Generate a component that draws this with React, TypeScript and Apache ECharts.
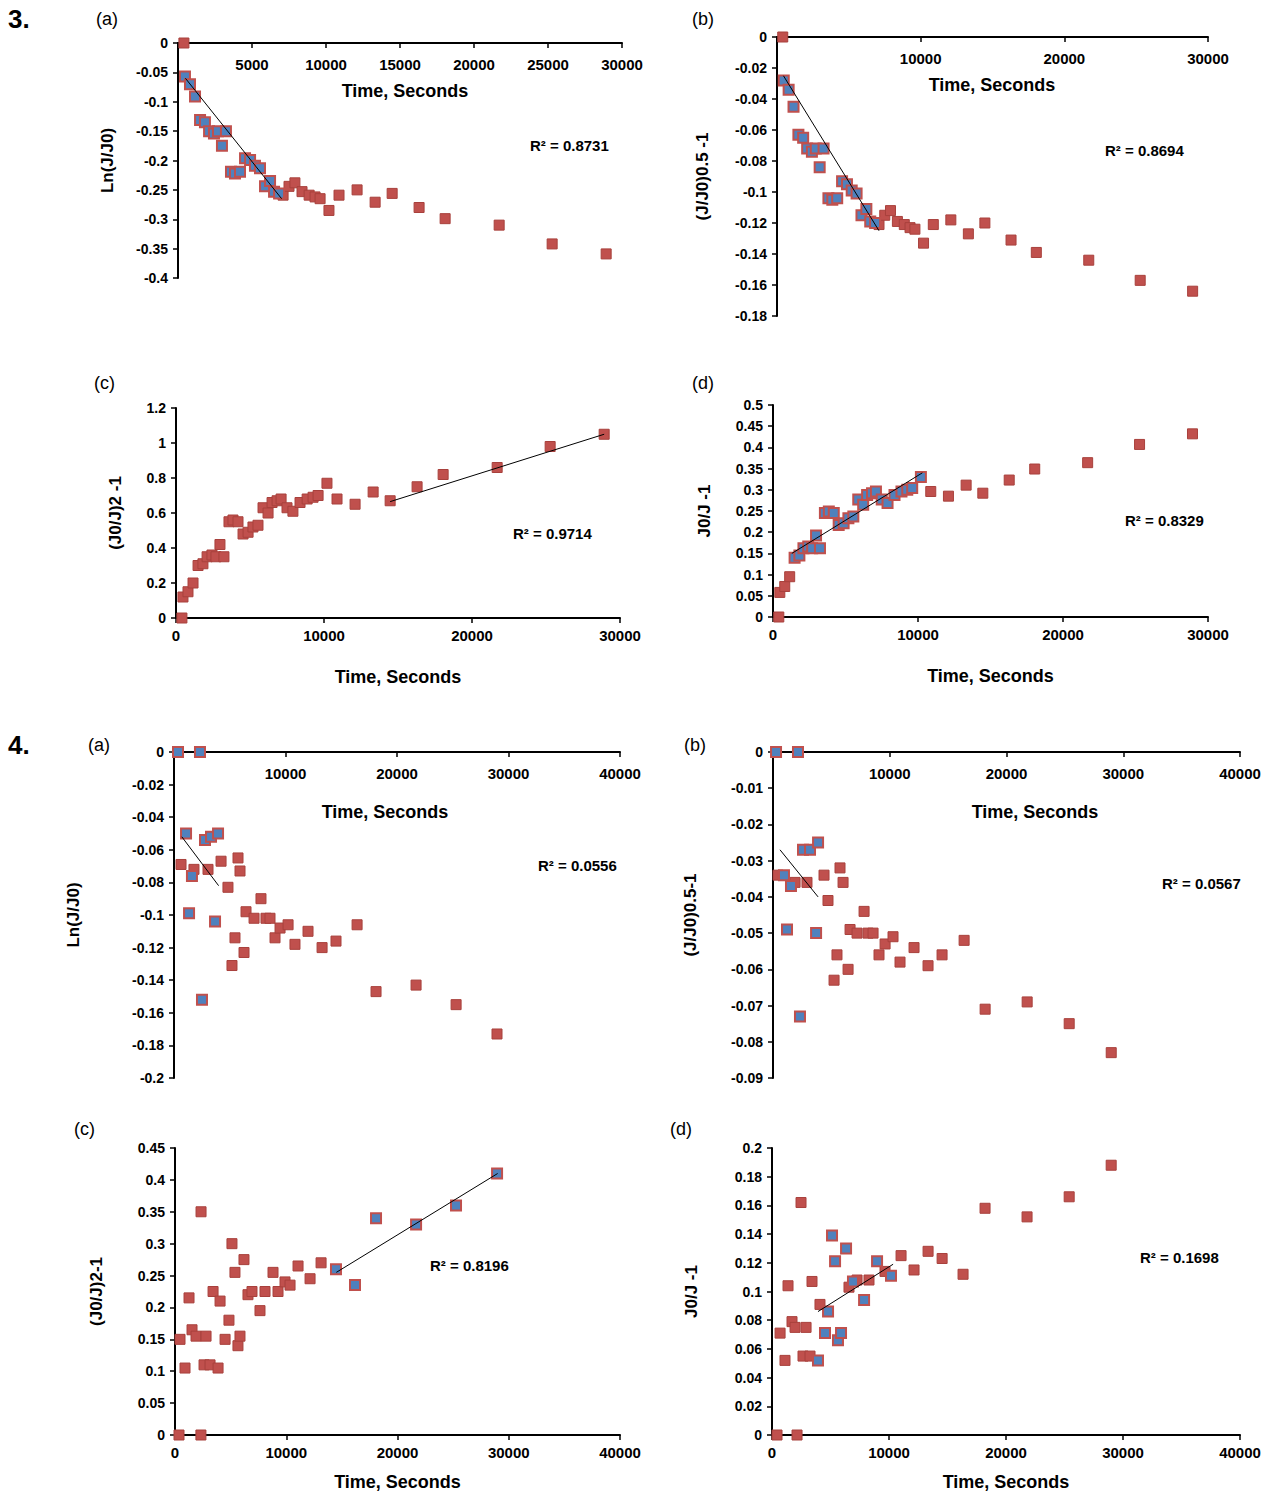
import { useEffect, useRef } from 'react'
import * as echarts from 'echarts'

// Figure 3 shared times (s)
const T3 = [400, 470, 810, 1150, 1490, 1820, 2100, 2430, 2700, 2970, 3240, 3580, 3850, 4190, 4530, 4870, 5200, 5540, 5880, 6220, 6490, 6830, 7100, 7500, 7900, 8380, 8860, 9260, 9600, 10200, 10880, 12100, 13320, 14470, 16290, 18050, 21700, 25280, 28930]
const ln3 = [0, -0.057, -0.07, -0.091, -0.131, -0.135, -0.15, -0.154, -0.15, -0.175, -0.15, -0.219, -0.222, -0.219, -0.196, -0.199, -0.209, -0.213, -0.244, -0.235, -0.253, -0.256, -0.259, -0.244, -0.238, -0.253, -0.259, -0.262, -0.265, -0.285, -0.259, -0.25, -0.271, -0.256, -0.28, -0.299, -0.31, -0.342, -0.359]
const sq3 = [0, -0.028, -0.034, -0.045, -0.063, -0.065, -0.072, -0.074, -0.072, -0.084, -0.072, -0.104, -0.105, -0.104, -0.093, -0.095, -0.099, -0.101, -0.115, -0.111, -0.119, -0.12, -0.121, -0.115, -0.112, -0.119, -0.121, -0.123, -0.124, -0.133, -0.121, -0.118, -0.127, -0.12, -0.131, -0.139, -0.144, -0.157, -0.164]
const pw3 = [0, 0.12, 0.15, 0.2, 0.3, 0.31, 0.35, 0.36, 0.35, 0.42, 0.35, 0.55, 0.56, 0.55, 0.48, 0.49, 0.52, 0.53, 0.63, 0.6, 0.66, 0.67, 0.68, 0.63, 0.61, 0.66, 0.68, 0.69, 0.7, 0.77, 0.68, 0.65, 0.72, 0.67, 0.75, 0.82, 0.86, 0.98, 1.05]
const inv3 = [0, 0.058, 0.072, 0.095, 0.14, 0.145, 0.162, 0.166, 0.162, 0.192, 0.162, 0.245, 0.249, 0.245, 0.217, 0.221, 0.233, 0.237, 0.277, 0.265, 0.288, 0.292, 0.296, 0.277, 0.269, 0.288, 0.296, 0.3, 0.304, 0.33, 0.296, 0.285, 0.311, 0.292, 0.323, 0.349, 0.364, 0.407, 0.432]

// Figure 4 points [time, value]
const blue4a = [[360, 0], [2330, 0], [1080, -0.05], [1350, -0.099], [1610, -0.076], [2510, -0.152], [2780, -0.054], [3320, -0.052], [3680, -0.104], [3950, -0.05]]
const red4a = [[630, -0.069], [1790, -0.072], [3050, -0.072], [4220, -0.067], [4840, -0.083], [5200, -0.131], [5470, -0.114], [5740, -0.065], [5920, -0.073], [6280, -0.123], [6460, -0.098], [7180, -0.102], [7800, -0.09], [8250, -0.102], [8610, -0.102], [9060, -0.114], [9510, -0.108], [10230, -0.106], [10850, -0.118], [12020, -0.11], [13280, -0.12], [14530, -0.116], [16420, -0.106], [18120, -0.147], [21710, -0.143], [25300, -0.155], [28970, -0.173]]
const blue4b = [[260, 0], [2140, 0], [940, -0.034], [1200, -0.049], [1540, -0.037], [2310, -0.073], [2570, -0.027], [3170, -0.027], [3690, -0.05], [3860, -0.025]]
const red4b = [[430, -0.034], [1890, -0.036], [2910, -0.036], [4370, -0.034], [4710, -0.041], [5230, -0.063], [5480, -0.056], [5740, -0.032], [6000, -0.036], [6430, -0.06], [6600, -0.049], [7200, -0.05], [7800, -0.044], [8140, -0.05], [8570, -0.05], [9080, -0.056], [9600, -0.053], [10280, -0.051], [10880, -0.058], [12080, -0.054], [13280, -0.059], [14480, -0.056], [16370, -0.052], [18170, -0.071], [21770, -0.069], [25370, -0.075], [28970, -0.083]]
const red4c = [[360, 0], [2330, 0], [450, 0.15], [900, 0.105], [1260, 0.215], [1530, 0.165], [1890, 0.155], [2340, 0.35], [2610, 0.11], [2790, 0.155], [3150, 0.11], [3420, 0.225], [3870, 0.105], [4050, 0.21], [4500, 0.15], [4850, 0.18], [5120, 0.3], [5390, 0.255], [5660, 0.14], [5840, 0.155], [6200, 0.275], [6560, 0.22], [6920, 0.225], [7640, 0.195], [8090, 0.225], [8810, 0.255], [9260, 0.225], [9890, 0.24], [10340, 0.235], [11060, 0.265], [12140, 0.245], [13130, 0.27]]
const blue4c = [[14470, 0.26], [16180, 0.235], [18070, 0.34], [21670, 0.33], [25260, 0.36], [28950, 0.41]]
const red4d = [[430, 0], [2140, 0], [690, 0.071], [1110, 0.052], [1370, 0.104], [1710, 0.079], [1970, 0.075], [2480, 0.162], [2650, 0.055], [2910, 0.075], [3250, 0.055], [3420, 0.107], [4100, 0.091], [6580, 0.103], [7270, 0.108], [8290, 0.108], [9660, 0.114], [11030, 0.125], [12140, 0.115], [13340, 0.128], [14540, 0.123], [16330, 0.112], [18210, 0.158], [21800, 0.152], [25400, 0.166], [28990, 0.188]]
const blue4d = [[3930, 0.052], [4530, 0.071], [4790, 0.086], [5130, 0.139], [5390, 0.121], [5640, 0.066], [5900, 0.071], [6330, 0.13], [6920, 0.107], [7870, 0.094], [8980, 0.121], [10170, 0.111]]

// trend line end points
const trend3a = [[500, -0.06], [7000, -0.265]]
const trend3b = [[450, -0.025], [7100, -0.125]]
const trend3c = [[14470, 0.665], [28930, 1.05]]
const trend3d = [[1300, 0.15], [10300, 0.34]]
const trend4a = [[700, -0.052], [4000, -0.082]]
const trend4b = [[600, -0.027], [3860, -0.04]]
const trend4c = [[14500, 0.255], [29000, 0.41]]
const trend4d = [[3930, 0.086], [10350, 0.119]]

const zip = (t: number[], v: number[], from: number, to: number, blue: boolean) =>
  t.map((x, i) => [x, v[i], i]).filter((p) => (p[2] >= from && p[2] <= to) === blue).map((p) => [p[0], p[1]])

const FONT = 'Liberation Sans'

type P = {
  rect: number[]; xmax: number; xint: number; ymin: number; ymax: number; yint: number
  yname: string; ygap: number; top: boolean; xgap?: number
  red: number[][]; blue: number[][]; trend: number[][]
}

const panels: P[] = [
  { rect: [178, 43, 444, 235], xmax: 30000, xint: 5000, ymin: -0.4, ymax: 0, yint: 0.05, yname: 'Ln(J/J0)', ygap: 62, top: true,
    red: zip(T3, ln3, 1, 21, false), blue: zip(T3, ln3, 1, 21, true), trend: trend3a },
  { rect: [777, 37, 431, 279], xmax: 30000, xint: 10000, ymin: -0.18, ymax: 0, yint: 0.02, yname: '(J/J0)0.5 -1', ygap: 66, top: true,
    red: zip(T3, sq3, 1, 21, false), blue: zip(T3, sq3, 1, 21, true), trend: trend3b },
  { rect: [176, 408, 444, 210], xmax: 30000, xint: 10000, ymin: 0, ymax: 1.2, yint: 0.2, yname: '(J0/J)2 -1', ygap: 52, top: false, xgap: 50,
    red: zip(T3, pw3, 0, -1, false), blue: [], trend: trend3c },
  { rect: [773, 405, 435, 212], xmax: 30000, xint: 10000, ymin: 0, ymax: 0.5, yint: 0.05, yname: 'J0/J -1', ygap: 60, top: false, xgap: 50,
    red: zip(T3, inv3, 4, 29, false), blue: zip(T3, inv3, 4, 29, true), trend: trend3d },
  { rect: [174, 752, 446, 326], xmax: 40000, xint: 10000, ymin: -0.2, ymax: 0, yint: 0.02, yname: 'Ln(J/J0)', ygap: 92, top: true,
    red: red4a, blue: blue4a, trend: trend4a },
  { rect: [773, 752, 467, 326], xmax: 40000, xint: 10000, ymin: -0.09, ymax: 0, yint: 0.01, yname: '(J/J0)0.5-1', ygap: 74, top: true,
    red: red4b, blue: blue4b, trend: trend4b },
  { rect: [175, 1148, 445, 287], xmax: 40000, xint: 10000, ymin: 0, ymax: 0.45, yint: 0.05, yname: '(J0/J)2-1', ygap: 70, top: false, xgap: 38,
    red: red4c, blue: blue4c, trend: trend4c },
  { rect: [772, 1148, 468, 287], xmax: 40000, xint: 10000, ymin: 0, ymax: 0.2, yint: 0.02, yname: 'J0/J -1', ygap: 72, top: false, xgap: 38,
    red: red4d, blue: blue4d, trend: trend4d },
]

const r2 = [['R² = 0.8731', 530, 145], ['R² = 0.8694', 1105, 150], ['R² = 0.9714', 513, 533], ['R² = 0.8329', 1125, 520],
  ['R² = 0.0556', 538, 865], ['R² = 0.0567', 1162, 883], ['R² = 0.8196', 430, 1265], ['R² = 0.1698', 1140, 1257]]
const letters = [['3.', 8, 6, 26, 'bold'], ['(a)', 96, 10, 18, 'normal'], ['(b)', 692, 10, 18, 'normal'], ['(c)', 94, 374, 18, 'normal'], ['(d)', 692, 374, 18, 'normal'],
  ['4.', 8, 732, 26, 'bold'], ['(a)', 88, 736, 18, 'normal'], ['(b)', 684, 736, 18, 'normal'], ['(c)', 74, 1120, 18, 'normal'], ['(d)', 670, 1120, 18, 'normal']]
const timeLabels = [[405, 91], [992, 85], [385, 812], [1035, 812]]

function buildOption() {
  const lab = { color: '#000', fontFamily: FONT, fontWeight: 'bold' as const, fontSize: 14 }
  const line = { lineStyle: { color: '#000', width: 2 } }
  const grid: any[] = [], xAxis: any[] = [], yAxis: any[] = [], series: any[] = []
  panels.forEach((p, i) => {
    grid.push({ left: p.rect[0], top: p.rect[1], width: p.rect[2], height: p.rect[3] })
    xAxis.push({
      gridIndex: i, type: 'value', min: 0, max: p.xmax, interval: p.xint,
      position: p.top ? 'top' : 'bottom',
      axisLine: { onZero: false, ...line }, axisTick: { show: true, inside: p.top, length: 5, lineStyle: { color: '#000', width: 1.5 } },
      axisLabel: { ...lab, fontSize: 15, inside: p.top, margin: p.top ? 14 : 10, showMinLabel: !p.top, formatter: (v: number) => String(v) },
      splitLine: { show: false },
      name: p.top ? '' : 'Time, Seconds', nameLocation: 'middle', nameGap: p.xgap,
      nameTextStyle: { ...lab, fontSize: 18 },
    })
    yAxis.push({
      gridIndex: i, type: 'value', min: p.ymin, max: p.ymax, interval: p.yint,
      axisLine: { onZero: false, ...line }, axisTick: { show: true, length: 5, lineStyle: { color: '#000', width: 1.5 } },
      axisLabel: { ...lab, margin: 10 }, splitLine: { show: false },
      name: p.yname, nameLocation: 'middle', nameGap: p.ygap, nameTextStyle: { ...lab, fontSize: 17 },
    })
    series.push(
      { type: 'scatter', xAxisIndex: i, yAxisIndex: i, data: p.red, symbol: 'rect', symbolSize: 10,
        itemStyle: { color: '#c0504d', borderColor: '#a8403c', borderWidth: 1, opacity: 1 } },
      { type: 'scatter', xAxisIndex: i, yAxisIndex: i, data: p.blue, symbol: 'rect', symbolSize: 10,
        itemStyle: { color: '#4f81bd', borderColor: '#c0504d', borderWidth: 2, opacity: 1 } },
      { type: 'line', xAxisIndex: i, yAxisIndex: i, data: p.trend, symbol: 'none', lineStyle: { color: '#000', width: 1 }, z: 5 },
    )
  })
  const graphic: any[] = [
    ...r2.map((r) => ({ type: 'text', x: r[1], y: r[2], style: { text: r[0], fill: '#000', font: `bold 15px "${FONT}"`, verticalAlign: 'middle' } })),
    ...letters.map((l) => ({ type: 'text', x: l[1], y: l[2], style: { text: l[0], fill: '#000', font: `${l[4]} ${l[3]}px "${FONT}"` } })),
    ...timeLabels.map((t) => ({ type: 'text', x: t[0], y: t[1], style: { text: 'Time, Seconds', fill: '#000', font: `bold 18px "${FONT}"`, align: 'center', verticalAlign: 'middle' } })),
  ]
  return { animation: false, backgroundColor: '#fff', grid, xAxis, yAxis, series, graphic }
}

export default function App() {
  const ref = useRef<HTMLDivElement>(null)
  useEffect(() => {
    if (!ref.current) return
    const chart = echarts.init(ref.current, undefined, { renderer: 'svg' })
    chart.setOption(buildOption())
    return () => chart.dispose()
  }, [])
  return <div ref={ref} style={{ position: 'absolute', left: 0, top: 0, width: 1274, height: 1494 }} />
}
